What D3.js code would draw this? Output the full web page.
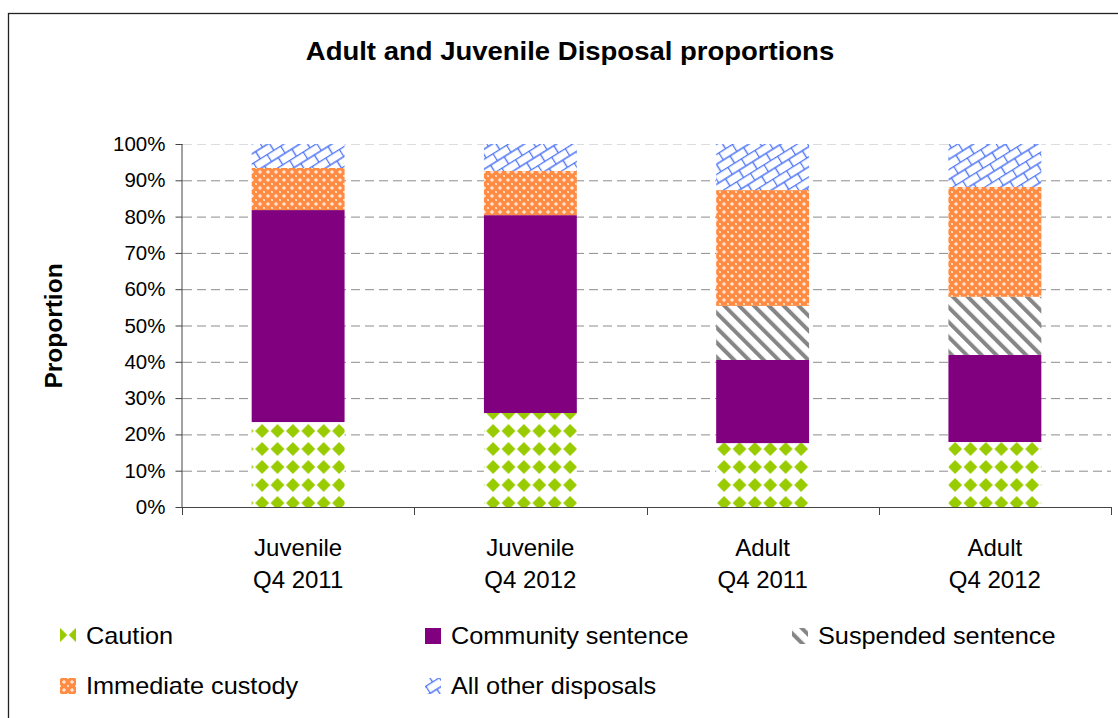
<!DOCTYPE html>
<html>
<head>
<meta charset="utf-8">
<script src="https://cdnjs.cloudflare.com/ajax/libs/d3/7.8.5/d3.min.js"></script>
<style>
  body { margin: 0; background: #fff; }
  svg { display: block; font-family: "Liberation Sans", Arial, sans-serif; }
</style>
</head>
<body>
<svg width="1118" height="718"></svg>
<script>
// chart data (percent of disposals)
var categories = ["Juvenile|Q4 2011", "Juvenile|Q4 2012", "Adult|Q4 2011", "Adult|Q4 2012"];
var seriesNames = ["Caution", "Community sentence", "Suspended sentence", "Immediate custody", "All other disposals"];
var caution   = [23.4, 25.9, 17.6, 17.9];
var community = [58.4, 54.5, 22.9, 24.0];
var suspended = [0, 0, 14.9, 16.0];
var custody   = [11.6, 12.2, 31.9, 30.3];
var other     = [6.6, 7.4, 12.7, 11.8];
var yTicks = [0, 10, 20, 30, 40, 50, 60, 70, 80, 90, 100];

var svg = d3.select("svg");
var defs = svg.append("defs");

// fills
// caution: green diamonds
var p = defs.append("pattern").attr("id", "pCaution")
  .attr("patternUnits", "userSpaceOnUse").attr("width", 15.4).attr("height", 18)
  .attr("x", 8).attr("y", 8);
p.append("rect").attr("width", 15.4).attr("height", 18).attr("fill", "#fff");
p.append("path").attr("d", "M7.7,2 L14.6,9 L7.7,16 L0.8,9 Z").attr("fill", "#99cc00");

// suspended: grey stripes
p = defs.append("pattern").attr("id", "pSusp")
  .attr("patternUnits", "userSpaceOnUse").attr("width", 10.5).attr("height", 10)
  .attr("patternTransform", "rotate(-45)");
p.append("rect").attr("width", 10.5).attr("height", 10).attr("fill", "#fff");
p.append("rect").attr("width", 4).attr("height", 10).attr("fill", "#868686");

// custody: orange lattice
p = defs.append("pattern").attr("id", "pCust")
  .attr("patternUnits", "userSpaceOnUse").attr("width", 8).attr("height", 8);
p.append("rect").attr("width", 8).attr("height", 8).attr("fill", "#ff8c42");
p.append("rect").attr("x", 3.5).attr("y", 2).attr("width", 1).attr("height", 4).attr("fill", "#fff");
p.append("rect").attr("x", 2).attr("y", 3.5).attr("width", 4).attr("height", 1).attr("fill", "#fff");
p.append("rect").attr("x", 0).attr("y", 0).attr("width", 1).attr("height", 1).attr("fill", "#ffe0c8");
p.append("rect").attr("x", 7).attr("y", 7).attr("width", 1).attr("height", 1).attr("fill", "#ffe0c8");
p.append("rect").attr("x", 7).attr("y", 0).attr("width", 1).attr("height", 1).attr("fill", "#ffd0b0");
p.append("rect").attr("x", 0).attr("y", 7).attr("width", 1).attr("height", 1).attr("fill", "#ffd0b0");

// other: blue tilted bricks
p = defs.append("pattern").attr("id", "pOther")
  .attr("patternUnits", "userSpaceOnUse").attr("width", 16).attr("height", 17)
  .attr("patternTransform", "rotate(-32)");
p.append("rect").attr("width", 16).attr("height", 17).attr("fill", "#fff");
p.append("path")
  .attr("d", "M0,0.5 H16 M0,9 H16 M0.5,0 V9 M8.5,9 V17")
  .attr("stroke", "#4d74f5").attr("stroke-width", 1.4).attr("fill", "none");

var fills = ["url(#pCaution)", "#800080", "url(#pSusp)", "url(#pCust)", "url(#pOther)"];

// outer frame
svg.append("rect")
  .attr("x", 8.5).attr("y", 13.5).attr("width", 1200).attr("height", 800)
  .attr("fill", "none").attr("stroke", "#222").attr("stroke-width", 1.3);

var x = d3.scaleBand()
  .domain(categories)
  .range([182, 1111])
  .paddingInner(0.6)
  .paddingOuter(0.3);

var y = d3.scaleLinear().domain([0, 100]).range([507, 144]);

// gridlines
svg.append("g")
  .selectAll("line")
  .data(yTicks.filter(function(d) { return d > 0; }))
  .enter().append("line")
  .attr("x1", 183).attr("x2", 1111)
  .attr("y1", function(d) { return y(d) + 0.5; })
  .attr("y2", function(d) { return y(d) + 0.5; })
  .attr("stroke", function(d) { return d == 100 ? "#ddd" : "#8c8c8c"; })
  .attr("stroke-dasharray", "9,5");

// stacked bars
var rows = categories.map(function(c, i) {
  return { cat: c, s0: caution[i], s1: community[i], s2: suspended[i], s3: custody[i], s4: other[i] };
});
var stack = d3.stack().keys(["s0", "s1", "s2", "s3", "s4"]);
var layers = stack(rows);

svg.append("g")
  .selectAll("g")
  .data(layers)
  .enter().append("g")
  .attr("fill", function(d, i) { return fills[i]; })
  .selectAll("rect")
  .data(function(d) { return d; })
  .enter().append("rect")
  .attr("x", function(d) { return x(d.data.cat); })
  .attr("width", x.bandwidth())
  .attr("y", function(d) { return y(d[1]); })
  .attr("height", function(d) { return y(d[0]) - y(d[1]); });

// y axis
var yAxis = svg.append("g")
  .attr("transform", "translate(182.5,0)")
  .call(d3.axisLeft(y).tickValues(yTicks).tickSize(7).tickPadding(10)
    .tickFormat(function(d) { return d + "%"; }));
yAxis.select(".domain").attr("stroke", "#444").attr("d", "M-0.5,144V507.5");
yAxis.selectAll(".tick line").attr("stroke", "#444");
yAxis.selectAll("text")
  .attr("fill", "#000")
  .style("font-size", "20.5px")
  .style("font-family", "Liberation Sans, Arial, sans-serif");

// x axis line + boundary ticks
svg.append("line")
  .attr("x1", 182).attr("x2", 1111.5)
  .attr("y1", 507.5).attr("y2", 507.5)
  .attr("stroke", "#444");
var bounds = [182].concat(categories.map(function(c) { return x(c) + x.bandwidth() + x.step() * 0.3; }));
svg.append("g")
  .selectAll("line")
  .data(bounds)
  .enter().append("line")
  .attr("x1", function(d) { return Math.round(d) + 0.5; })
  .attr("x2", function(d) { return Math.round(d) + 0.5; })
  .attr("y1", 507).attr("y2", 515)
  .attr("stroke", "#444");

// category labels
var catLabels = svg.append("g")
  .selectAll("text")
  .data(categories)
  .enter().append("text")
  .attr("text-anchor", "middle")
  .attr("font-size", "24px")
  .attr("fill", "#000");
catLabels.append("tspan")
  .attr("x", function(d) { return x(d) + x.bandwidth() / 2; })
  .attr("y", 556)
  .text(function(d) { return d.split("|")[0]; });
catLabels.append("tspan")
  .attr("x", function(d) { return x(d) + x.bandwidth() / 2; })
  .attr("y", 588)
  .text(function(d) { return d.split("|")[1]; });

// title (the source is a little wider than Arial, stretch it)
svg.append("text")
  .attr("transform", "translate(570,60) scale(1.1,1)")
  .attr("text-anchor", "middle")
  .attr("font-size", "25px")
  .attr("font-weight", "bold")
  .text("Adult and Juvenile Disposal proportions");

// y label
svg.append("text")
  .attr("transform", "translate(62,326) rotate(-90)")
  .attr("text-anchor", "middle")
  .attr("font-size", "24.5px")
  .attr("font-weight", "bold")
  .text("Proportion");

// legend
var legPos = [[60, 636], [425, 636], [792, 636], [60, 686], [425, 686]];
var leg = svg.append("g")
  .selectAll("g")
  .data(seriesNames)
  .enter().append("g")
  .attr("transform", function(d, i) { return "translate(" + legPos[i][0] + "," + legPos[i][1] + ")"; });
leg.append("rect")
  .attr("x", 0).attr("y", -8).attr("width", 16).attr("height", 16)
  .attr("fill", function(d, i) { return fills[i]; });
leg.append("text")
  .attr("transform", "translate(26,8) scale(1.1,1)")
  .attr("font-size", "23px")
  .attr("fill", "#000")
  .text(function(d) { return d; });
</script>
</body>
</html>
